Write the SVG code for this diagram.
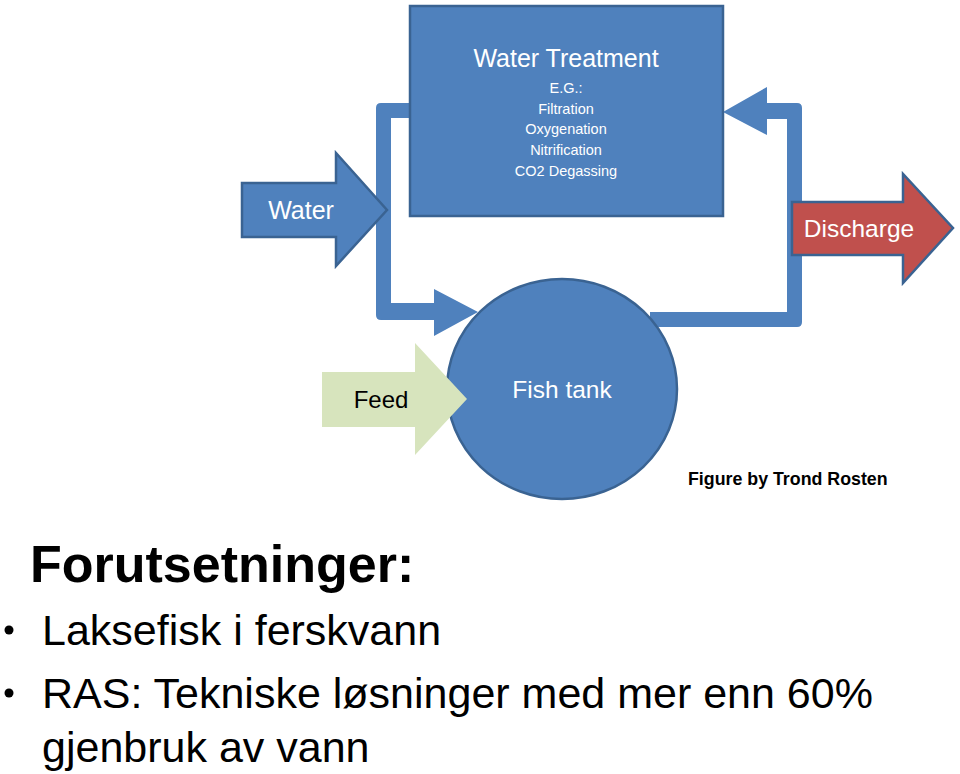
<svg xmlns="http://www.w3.org/2000/svg" width="960" height="774" viewBox="0 0 960 774">
<style>
.blue{fill:#4f81bd;stroke:#3a6392;stroke-width:2.5}
.pipe{fill:#4f81bd;stroke:none}
.wt{fill:#ffffff;font-family:"Liberation Sans",Arial,sans-serif;text-anchor:middle}
.bk{fill:#000000;font-family:"Liberation Sans",Arial,sans-serif}
</style>
<rect width="960" height="774" fill="#ffffff"/>
<g id="connectors">
<path class="pipe" d="M420,103 L381,103 Q376,103 376,108 L376,315 Q376,320 381,320 L434,320 L434,336 L478,312 L434,289 L434,303 L391,303 L391,118 L420,118 Z"/>
<path class="pipe" d="M723,112 L767,87 L767,103 L797,103 Q802,103 802,108 L802,322 Q802,327 797,327 L650,327 L650,312 L787,312 L787,119 L767,119 L767,135 Z"/>
</g>
<g id="water-treatment">
<rect class="blue" x="410" y="6" width="313" height="210"/>
<text class="wt" x="566" y="67" font-size="25">Water Treatment</text>
<text class="wt" x="566" y="93" font-size="14.5">E.G.:</text>
<text class="wt" x="566" y="114" font-size="14.5">Filtration</text>
<text class="wt" x="566" y="134" font-size="14.5">Oxygenation</text>
<text class="wt" x="566" y="155" font-size="14.5">Nitrification</text>
<text class="wt" x="566" y="176" font-size="14.5">CO2 Degassing</text>
</g>
<g id="fish-tank">
<ellipse class="blue" cx="562" cy="389" rx="115" ry="110"/>
<text class="wt" x="562" y="398" font-size="24.5">Fish tank</text>
</g>
<g id="water">
<path class="blue" d="M242,183 L336,183 L336,153 L387,210 L336,266 L336,237 L242,237 Z"/>
<text class="wt" x="301" y="219" font-size="25">Water</text>
</g>
<g id="discharge">
<path d="M792,202 L903,202 L903,174 L953,228 L903,283 L903,255 L792,255 Z" fill="#c0504d" stroke="#3a6392" stroke-width="2.5"/>
<text class="wt" x="859" y="237" font-size="24.5" fill="#f2f2f2">Discharge</text>
</g>
<g id="feed">
<path d="M322,372 L415,372 L415,343 L467,399 L415,455 L415,427 L322,427 Z" fill="#d7e4bd"/>
<text class="bk" x="381" y="408" font-size="24" text-anchor="middle">Feed</text>
</g>
<g id="credit">
<text class="bk" x="688" y="485" font-size="17.8" font-weight="bold">Figure by Trond Rosten</text>
</g>
<g id="text-block">
<text class="bk" x="30" y="582" font-size="52" font-weight="bold">Forutsetninger:</text>
<circle cx="9" cy="630" r="4.5" fill="#000"/>
<text class="bk" x="42" y="645" font-size="43">Laksefisk i ferskvann</text>
<circle cx="9" cy="693" r="4.5" fill="#000"/>
<text class="bk" x="42" y="708" font-size="43">RAS: Tekniske løsninger med mer enn 60%</text>
<text class="bk" x="42" y="762" font-size="43">gjenbruk av vann</text>
</g>
</svg>
